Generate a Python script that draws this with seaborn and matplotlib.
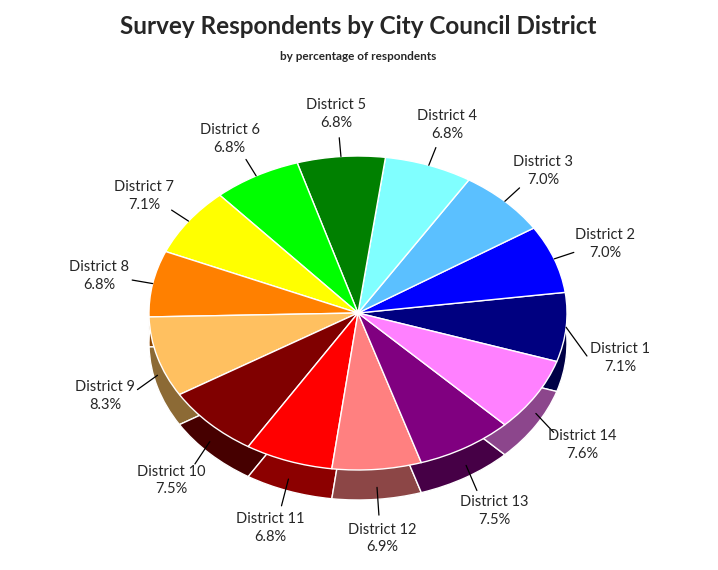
import matplotlib
matplotlib.use("Agg")
import matplotlib.pyplot as plt
import matplotlib.transforms as mtransforms
import matplotlib.colors as mcolors
import numpy as np
import seaborn as sns

sns.set_theme(style="white")
plt.rcParams['font.family'] = ['Lato', 'DejaVu Sans']

districts = ["District 1", "District 2", "District 3", "District 4", "District 5",
             "District 6", "District 7", "District 8", "District 9", "District 10",
             "District 11", "District 12", "District 13", "District 14"]
shares = [7.1, 7.0, 7.0, 6.8, 6.8, 6.8, 7.1, 6.8, 8.3, 7.5, 6.8, 6.9, 7.5, 7.6]
colors = ["#000080", "#0000FF", "#5BC0FF", "#80FFFF", "#008000", "#00FF00", "#FFFF00",
          "#FF8000", "#FFC060", "#800000", "#FF0000", "#FF8080", "#800080", "#FF80FF"]

W, H = 718, 570
fig = plt.figure(figsize=(W/100, H/100), dpi=100)
ax = fig.add_axes([0, 0, 1, 1])
cx, cy = 358, H - 313
rx, ry, depth = 209, 157, 30
start = -18

def dark(c, f=0.55):
    r, g, b = mcolors.to_rgb(c)
    return (r*f, g*f, b*f)

dcols = [dark(c) for c in colors]
for k in range(depth, 0, -2):
    wb, _ = ax.pie(shares, colors=dcols, startangle=start, counterclock=True,
                   wedgeprops=dict(edgecolor=None, linewidth=0))
    for w in wb:
        w.set_transform(mtransforms.Affine2D().scale(rx, ry).translate(cx, cy - k) + ax.transData)
wb, _ = ax.pie(shares, colors=dcols, startangle=start, counterclock=True,
               wedgeprops=dict(edgecolor="white", linewidth=1))
for w in wb:
    w.set_transform(mtransforms.Affine2D().scale(rx, ry).translate(cx, cy - depth) + ax.transData)
wt, _ = ax.pie(shares, colors=colors, startangle=start, counterclock=True,
               wedgeprops=dict(edgecolor="white", linewidth=1))
for w in wt:
    w.set_transform(mtransforms.Affine2D().scale(rx, ry).translate(cx, cy) + ax.transData)

total = sum(shares)
cum = 0
for name, v in zip(districts, shares):
    mid = np.deg2rad(start + 360 * (cum + v / 2) / total)
    cum += v
    c, s = np.cos(mid), np.sin(mid)
    off = depth * 0.9 if s < 0 else 0
    ex, ey = cx + rx * c, cy + ry * s - (depth * 0.6 if s < -0.2 else 0)
    lx, ly = cx + rx * 1.26 * c, cy + ry * 1.27 * s - off
    ax.plot([ex, cx + rx * 1.1 * c], [ey, cy + ry * 1.12 * s - off], color="black", lw=0.9)
    ax.text(lx, ly, f"{name}\n{v:.1f}%", ha="center", va="center", fontsize=10.5,
            linespacing=1.35)

ax.text(358, H - 27, "Survey Respondents by City Council District", ha="center",
        va="center", fontsize=17.5, fontweight="bold")
ax.text(358, H - 57, "by percentage of respondents", ha="center", va="center",
        fontsize=8.5, fontweight="bold")

ax.set_aspect("auto")
ax.set_xlim(0, W)
ax.set_ylim(0, H)
ax.axis("off")
fig.savefig("out.png", dpi=100, facecolor="white")
